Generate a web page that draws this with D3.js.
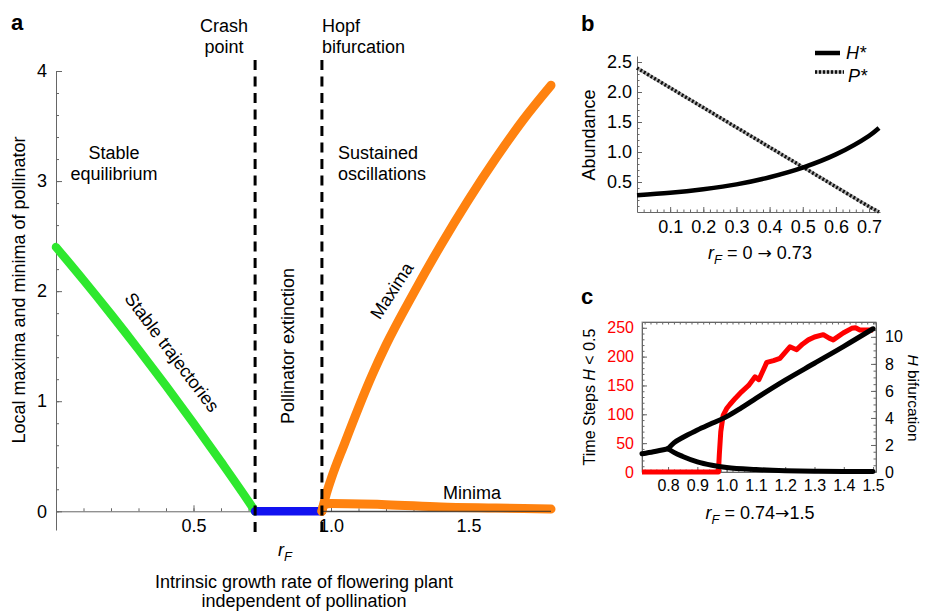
<!DOCTYPE html>
<html>
<head>
<meta charset="utf-8">
<script src="https://cdn.jsdelivr.net/npm/d3@7"></script>
<style>
body{margin:0;background:#fff}
svg{display:block;font-family:'Liberation Sans',Arial,Helvetica,sans-serif}
.ax path,.ax line{stroke:#666}
</style>
</head>
<body>
<script>
// panel a : local maxima / minima of pollinator against r_F
var stableR = [0, 0.1, 0.2, 0.3, 0.4, 0.5, 0.6, 0.7, 0.724];
var stableP = [2.40, 2.10, 1.79, 1.47, 1.14, 0.80, 0.45, 0.09, 0];
var extinctR = [0.724, 0.967];
var extinctP = [0, 0];
var maxR = [0.967, 0.98, 1.0, 1.05, 1.1, 1.15, 1.2, 1.3, 1.4, 1.5, 1.6, 1.7, 1.8];
var maxP = [0, 0.13, 0.29, 0.62, 0.94, 1.24, 1.51, 1.98, 2.42, 2.83, 3.21, 3.56, 3.87];
var minR = [0.967, 0.975, 1.0, 1.2, 1.4, 1.6, 1.8];
var minP = [0, 0.06, 0.07, 0.06, 0.04, 0.03, 0.02];
var markR = [0.724, 0.967]; // crash point, hopf bifurcation
var aTicksY = [0, 1, 2, 3, 4];
var aTicksX = [0.5, 1.0, 1.5];

// panel b : equilibria
var bR = [0, 0.1, 0.2, 0.3, 0.4, 0.5, 0.6, 0.7, 0.73];
var hStar = [0.28, 0.32, 0.38, 0.46, 0.58, 0.74, 0.96, 1.27, 1.40];
var pStar = [2.40, 2.07, 1.74, 1.41, 1.08, 0.75, 0.42, 0.09, 0];
var bTicksY = [0.5, 1.0, 1.5, 2.0, 2.5];
var bTicksX = [0.1, 0.2, 0.3, 0.4, 0.5, 0.6, 0.7];

// panel c : time steps H<0.5 (left) and H bifurcation (right)
var stepR = [0.711, 0.972, 0.975, 0.98, 0.988, 1.0, 1.011, 1.03, 1.051, 1.075, 1.097, 1.11, 1.137, 1.16, 1.182, 1.216, 1.239, 1.26, 1.279, 1.30, 1.33, 1.35, 1.364, 1.398, 1.427, 1.44, 1.455, 1.48, 1.50];
var steps = [0, 0, 30, 70, 98, 110, 117, 128, 139, 150, 165, 160, 190, 193, 197, 217, 212, 222, 229, 234, 238, 232, 229, 241, 249, 250, 246, 246, 246];
var bifR = [0.711, 0.75, 0.8];
var bifH = [1.35, 1.5, 1.72];
var upR = [0.8, 0.82, 0.85, 0.9, 0.95, 1.0, 1.05, 1.1, 1.2, 1.3, 1.4, 1.5];
var upH = [1.72, 2.15, 2.55, 3.1, 3.6, 4.1, 4.75, 5.45, 6.8, 8.05, 9.3, 10.6];
var lowR = [0.8, 0.82, 0.85, 0.9, 0.95, 1.0, 1.1, 1.2, 1.3, 1.4, 1.5];
var lowH = [1.72, 1.45, 1.15, 0.75, 0.5, 0.33, 0.18, 0.1, 0.06, 0.04, 0.03];
var cTicksL = [0, 50, 100, 150, 200, 250];
var cTicksR = [0, 2, 4, 6, 8, 10];
var cTicksX = [0.8, 0.9, 1.0, 1.1, 1.2, 1.3, 1.4, 1.5];

var svg = d3.select("body").append("svg").attr("width", 925).attr("height", 612);
var zip = function(a, b) { return a.map(function(d, i) { return [d, b[i]]; }); };
var f1 = d3.format(".1f");

// italic r with subscript F, then the rest (arrow drawn in DejaVu so it is larger)
function rF(sel, x, y, size, anchor, parts) {
  var t = sel.append("text").attr("x", x).attr("y", y).attr("font-size", size).attr("text-anchor", anchor || "middle");
  t.append("tspan").attr("font-style", "italic").text("r");
  t.append("tspan").attr("font-style", "italic").attr("font-size", size * 0.72).attr("dy", size * 0.3).text("F");
  if (parts) {
    t.append("tspan").attr("dy", -size * 0.3).text(parts[0]);
    t.append("tspan").attr("font-family", "'DejaVu Sans'").attr("font-size", size * 0.95).text("\u2192");
    t.append("tspan").text(parts[1]);
  }
  return t;
}
function label(sel, txt, x, y, size, anchor, weight) {
  return sel.append("text").attr("x", x).attr("y", y).attr("font-size", size)
    .attr("text-anchor", anchor || "start").attr("font-weight", weight || "normal").text(txt);
}
function styleText(size, col) {
  return function(g) { g.select(".domain").remove(); g.selectAll("text").attr("font-size", size).attr("fill", col || "#000").attr("font-family", null); };
}

// ---------------- panel a ----------------
var xA = d3.scaleLinear().domain([0, 1.8]).range([56, 551]);
var yA = d3.scaleLinear().domain([-0.17, 4]).range([530, 71]);
var ga = svg.append("g");

ga.append("g").attr("class", "ax").attr("transform", "translate(" + xA(0) + ",0)")
  .call(d3.axisLeft(yA).tickValues(d3.range(0, 4.01, 0.2)).tickSizeInner(-3).tickSizeOuter(0).tickFormat(""));
ga.append("g").attr("class", "ax").attr("transform", "translate(" + xA(0) + ",0)")
  .call(d3.axisLeft(yA).tickValues(aTicksY).tickSizeInner(-6).tickSizeOuter(0).tickPadding(9).tickFormat(d3.format("d")))
  .call(styleText(18));
ga.append("g").attr("class", "ax").attr("transform", "translate(0," + yA(0) + ")")
  .call(d3.axisBottom(xA).tickValues(d3.range(0.1, 1.81, 0.1)).tickSizeInner(-3).tickSizeOuter(0).tickFormat(""));
ga.append("g").attr("class", "ax").attr("transform", "translate(0," + yA(0) + ")")
  .call(d3.axisBottom(xA).tickValues(aTicksX).tickSizeInner(-6).tickSizeOuter(0).tickPadding(8).tickFormat(f1))
  .call(styleText(18));

var lineA = d3.line().x(function(d) { return xA(d[0]); }).y(function(d) { return yA(d[1]); }).curve(d3.curveMonotoneX);
ga.append("path").attr("d", lineA(zip(stableR, stableP))).attr("fill", "none").attr("stroke", "#2ee82e").attr("stroke-width", 8.5).attr("stroke-linecap", "round");
ga.append("path").attr("d", lineA(zip(extinctR, extinctP))).attr("fill", "none").attr("stroke", "#1212f0").attr("stroke-width", 8.5).attr("stroke-linecap", "round");
ga.append("path").attr("d", lineA(zip(minR, minP))).attr("fill", "none").attr("stroke", "#ff820f").attr("stroke-width", 9).attr("stroke-linecap", "round");
ga.append("path").attr("d", lineA(zip(maxR, maxP))).attr("fill", "none").attr("stroke", "#ff820f").attr("stroke-width", 9).attr("stroke-linecap", "round");
ga.append("line").attr("x1", xA(0.967)).attr("x2", xA(1.8)).attr("y1", yA(0)).attr("y2", yA(0)).attr("stroke", "#333").attr("stroke-width", 1);

ga.selectAll("line.mark").data(markR).enter().append("line").attr("class", "mark")
  .attr("x1", function(d) { return xA(d); }).attr("x2", function(d) { return xA(d); })
  .attr("y1", yA(4.1)).attr("y2", yA(-0.24))
  .attr("stroke", "#000").attr("stroke-width", 3).attr("stroke-dasharray", "10,6.5");

label(ga, "a", 11, 30, 22, "start", "bold");
label(ga, "Crash", 224, 32, 18, "middle");
label(ga, "point", 224, 53, 18, "middle");
label(ga, "Hopf", 322, 32, 18);
label(ga, "bifurcation", 322, 53, 18);
label(ga, "Stable", 114, 159, 18, "middle");
label(ga, "equilibrium", 114, 180, 18, "middle");
label(ga, "Sustained", 338, 159, 18);
label(ga, "oscillations", 338, 180, 18);
label(ga, "Minima", 472, 499, 18, "middle");
label(ga, "Stable trajectories", 0, 0, 18, "middle").attr("transform", "translate(167,356) rotate(53)");
label(ga, "Maxima", 0, 0, 18, "middle").attr("transform", "translate(397,294) rotate(-57)");
label(ga, "Pollinator extinction", 0, 0, 18, "middle").attr("transform", "translate(294,346) rotate(-90)");
label(ga, "Local maxima and minima of pollinator", 0, 0, 18, "middle").attr("transform", "translate(25,290) rotate(-90)");
rF(ga, 285, 556, 18, "middle");
label(ga, "Intrinsic growth rate of flowering plant", 304, 588, 18, "middle");
label(ga, "independent of pollination", 304, 607, 18, "middle");

// ---------------- panel b ----------------
var xB = d3.scaleLinear().domain([0, 0.733]).range([637, 880]);
var yB = d3.scaleLinear().domain([0, 2.6]).range([212, 56]);
var gb = svg.append("g");

gb.append("g").attr("class", "ax").attr("transform", "translate(" + xB(0) + ",0)")
  .call(d3.axisLeft(yB).tickValues(d3.range(0.1, 2.55, 0.1)).tickSizeInner(-2.5).tickSizeOuter(0).tickFormat(""));
gb.append("g").attr("class", "ax").attr("transform", "translate(" + xB(0) + ",0)")
  .call(d3.axisLeft(yB).tickValues(bTicksY).tickSizeInner(-5).tickSizeOuter(0).tickPadding(5).tickFormat(f1))
  .call(styleText(18));
gb.append("g").attr("class", "ax").attr("transform", "translate(0," + yB(0) + ")")
  .call(d3.axisBottom(xB).tickValues(d3.range(0.02, 0.73, 0.02)).tickSizeInner(-2.5).tickSizeOuter(0).tickFormat(""));
gb.append("g").attr("class", "ax").attr("transform", "translate(0," + yB(0) + ")")
  .call(d3.axisBottom(xB).tickValues(bTicksX).tickSizeInner(-5).tickSizeOuter(0).tickPadding(8).tickFormat(f1))
  .call(styleText(18));

var lineB = d3.line().x(function(d) { return xB(d[0]); }).y(function(d) { return yB(d[1]); }).curve(d3.curveCatmullRom);
gb.append("path").attr("d", lineB(zip(bR, pStar))).attr("fill", "none").attr("stroke", "#aaa").attr("stroke-width", 3.5);
gb.append("path").attr("d", lineB(zip(bR, pStar))).attr("fill", "none").attr("stroke", "#111").attr("stroke-width", 3.5).attr("stroke-dasharray", "2,2");
gb.append("path").attr("d", lineB(zip(bR, hStar))).attr("fill", "none").attr("stroke", "#000").attr("stroke-width", 4.5);

// legend
gb.append("line").attr("x1", 815).attr("x2", 840).attr("y1", 53).attr("y2", 53).attr("stroke", "#000").attr("stroke-width", 4.5);
gb.append("line").attr("x1", 815).attr("x2", 844).attr("y1", 72).attr("y2", 72).attr("stroke", "#aaa").attr("stroke-width", 3.5);
gb.append("line").attr("x1", 815).attr("x2", 844).attr("y1", 72).attr("y2", 72).attr("stroke", "#111").attr("stroke-width", 3.5).attr("stroke-dasharray", "2,2");
label(gb, "H*", 846, 59, 18).attr("font-style", "italic");
label(gb, "P*", 848, 82, 18).attr("font-style", "italic");

label(gb, "b", 581, 31, 22, "start", "bold");
label(gb, "Abundance", 0, 0, 18, "middle").attr("transform", "translate(595,135) rotate(-90)");
rF(gb, 760, 259, 18, "middle", [" = 0 ", " 0.73"]);

// ---------------- panel c ----------------
var xC = d3.scaleLinear().domain([0.711, 1.51]).range([642, 876]);
var yCL = d3.scaleLinear().domain([0, 260]).range([472, 322]);
var yCR = d3.scaleLinear().domain([0, 11.1]).range([472, 322]);
var gc = svg.append("g");

gc.append("rect").attr("x", xC(0.711)).attr("y", yCL(260)).attr("width", xC(1.51) - xC(0.711)).attr("height", yCL(0) - yCL(260)).attr("fill", "none").attr("stroke", "#999");
gc.append("g").attr("class", "ax").attr("transform", "translate(0," + yCL(0) + ")")
  .call(d3.axisBottom(xC).tickValues(d3.range(0.72, 1.51, 0.02)).tickSizeInner(-2.5).tickSizeOuter(0).tickFormat(""));
gc.append("g").attr("class", "ax").attr("transform", "translate(0," + yCL(260) + ")")
  .call(d3.axisTop(xC).tickValues(d3.range(0.72, 1.51, 0.02)).tickSizeInner(-2.5).tickSizeOuter(0).tickFormat(""));
gc.append("g").attr("class", "ax").attr("transform", "translate(0," + yCL(0) + ")")
  .call(d3.axisBottom(xC).tickValues(cTicksX).tickSizeInner(-5).tickSizeOuter(0).tickPadding(8).tickFormat(f1))
  .call(styleText(16));

gc.append("g").attr("class", "ax").attr("transform", "translate(" + xC(0.711) + ",0)")
  .call(d3.axisLeft(yCL).tickValues(d3.range(0, 256, 10)).tickSizeInner(-2.5).tickSizeOuter(0).tickFormat(""))
  .call(function(g) { g.selectAll("line,path").attr("stroke", "#f77"); });
gc.append("g").attr("class", "ax").attr("transform", "translate(" + xC(0.711) + ",0)")
  .call(d3.axisLeft(yCL).tickValues(cTicksL).tickSizeInner(-5).tickSizeOuter(0).tickPadding(8))
  .call(styleText(16, "#f00"))
  .call(function(g) { g.selectAll("line").attr("stroke", "#f55"); });
gc.append("g").attr("class", "ax").attr("transform", "translate(" + xC(1.51) + ",0)")
  .call(d3.axisRight(yCR).tickValues(d3.range(0, 11.01, 0.5)).tickSizeInner(-2.5).tickSizeOuter(0).tickFormat(""));
gc.append("g").attr("class", "ax").attr("transform", "translate(" + xC(1.51) + ",0)")
  .call(d3.axisRight(yCR).tickValues(cTicksR).tickSizeInner(-5).tickSizeOuter(0).tickPadding(9))
  .call(styleText(16));

var lineCL = d3.line().x(function(d) { return xC(d[0]); }).y(function(d) { return yCL(d[1]); });
var lineCR = d3.line().x(function(d) { return xC(d[0]); }).y(function(d) { return yCR(d[1]); }).curve(d3.curveMonotoneX);
gc.append("path").attr("d", lineCL(zip(stepR, steps))).attr("fill", "none").attr("stroke", "#f00").attr("stroke-width", 5).attr("stroke-linejoin", "round");
[[bifR, bifH], [upR, upH], [lowR, lowH]].forEach(function(s) {
  gc.append("path").attr("d", lineCR(zip(s[0], s[1]))).attr("fill", "none").attr("stroke", "#000").attr("stroke-width", 5).attr("stroke-linecap", "round");
});

label(gc, "c", 581, 304, 22, "start", "bold");
var tl = gc.append("text").attr("font-size", 16).attr("text-anchor", "middle").attr("transform", "translate(595,397) rotate(-90)");
tl.append("tspan").text("Time Steps ");
tl.append("tspan").attr("font-style", "italic").text("H");
tl.append("tspan").text(" < 0.5");
var tr = gc.append("text").attr("font-size", 15.5).attr("text-anchor", "middle").attr("transform", "translate(908,398) rotate(90)");
tr.append("tspan").attr("font-style", "italic").text("H");
tr.append("tspan").text(" bifurcation");
rF(gc, 760, 519, 18, "middle", [" = 0.74", "1.5"]);
</script>
</body>
</html>
